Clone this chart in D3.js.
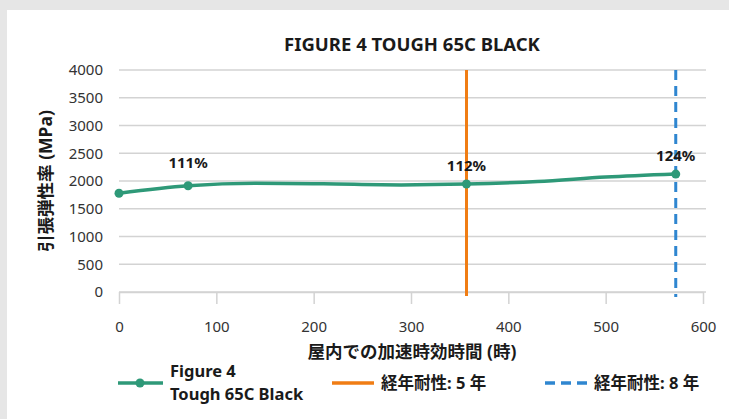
<!DOCTYPE html>
<html>
<head>
<meta charset="utf-8">
<script src="https://cdn.jsdelivr.net/npm/d3@7"></script>
<style>
  body { margin: 0; background: #e6e6e6; }
  svg { display: block; font-family: "Noto Sans", "Noto Sans CJK JP", sans-serif; }
</style>
</head>
<body>
<div id="chart"></div>
<script>
// data
var hours   = [0, 71, 140, 210, 290, 357, 430, 500, 572];
var modulus = [1780, 1915, 1960, 1950, 1930, 1945, 1990, 2070, 2125];
var markerIdx = [0, 1, 5, 8];
var pctLabels = [null, "111%", null, null, null, "112%", null, null, "124%"];
var life5 = 357, life8 = 572;
var yTicks = [0, 500, 1000, 1500, 2000, 2500, 3000, 3500, 4000];
var xTicks = [0, 100, 200, 300, 400, 500, 600];
var seriesName = ["Figure 4", "Tough 65C Black"];
var life5Name = "経年耐性: 5 年", life8Name = "経年耐性: 8 年";

var width = 729, height = 419,
    green = "#2e9978", orange = "#f07d14", blue = "#2f86d0";

var svg = d3.select("#chart").append("svg")
    .attr("width", width).attr("height", height);

svg.append("rect").attr("x", 7).attr("y", 10)
    .attr("width", width - 7).attr("height", height - 10).attr("fill", "#fff");

var x = d3.scaleLinear().domain([0, 600]).range([119, 703]),
    y = d3.scaleLinear().domain([0, 4000]).range([292, 70]);

// title
svg.append("text").attr("x", 412).attr("y", 51).attr("text-anchor", "middle")
    .attr("font-size", 18.5).attr("font-weight", "bold").attr("fill", "#1a1a1a")
    .text("FIGURE 4 TOUGH 65C BLACK");

// gridlines
svg.append("g").selectAll("line").data(yTicks).enter().append("line")
    .attr("x1", x(0)).attr("x2", 706)
    .attr("y1", function(d) { return y(d); }).attr("y2", function(d) { return y(d); })
    .attr("stroke", "#d3d3d3").attr("stroke-width", 1.5);

// y axis labels
var yAxis = d3.axisLeft(y).tickValues(yTicks).tickFormat(d3.format("d")).tickSize(0).tickPadding(0);
svg.append("g").attr("transform", "translate(103,0)").call(yAxis)
    .call(function(g) { g.select(".domain").remove(); })
    .selectAll("text").attr("font-size", 15).attr("fill", "#333")
    .attr("font-family", "'Noto Sans', sans-serif");

// x axis
var xAxis = d3.axisBottom(x).tickValues(xTicks).tickSize(12).tickPadding(17).tickSizeOuter(0);
var gx = svg.append("g").attr("transform", "translate(0," + y(0) + ")").call(xAxis);
gx.select(".domain").attr("stroke", "#d3d3d3").attr("stroke-width", 1.5);
gx.selectAll(".tick line").attr("stroke", "#d3d3d3").attr("stroke-width", 1.5);
gx.selectAll("text").attr("font-size", 15).attr("fill", "#333")
    .attr("font-family", "'Noto Sans', sans-serif");

// axis titles
svg.append("text").attr("x", 412).attr("y", 358).attr("text-anchor", "middle")
    .attr("font-size", 17.5).attr("font-weight", "bold").attr("fill", "#1a1a1a")
    .text("屋内での加速時効時間 (時)");
svg.append("text").attr("transform", "translate(52,181) rotate(-90)")
    .attr("text-anchor", "middle")
    .attr("font-size", 17.5).attr("font-weight", "bold").attr("fill", "#1a1a1a")
    .text("引張弾性率 (MPa)");

// durability lines
svg.append("line").attr("x1", x(life5)).attr("x2", x(life5))
    .attr("y1", y(4000)).attr("y2", y(0) + 4)
    .attr("stroke", orange).attr("stroke-width", 3);
svg.append("line").attr("x1", x(life8)).attr("x2", x(life8))
    .attr("y1", y(4000)).attr("y2", y(0) + 5)
    .attr("stroke", blue).attr("stroke-width", 3).attr("stroke-dasharray", "10,6");

// series
var pts = hours.map(function(h, i) { return {h: h, v: modulus[i], label: pctLabels[i]}; });
var line = d3.line().x(function(d) { return x(d.h); }).y(function(d) { return y(d.v); })
    .curve(d3.curveMonotoneX);
svg.append("path").datum(pts).attr("d", line)
    .attr("fill", "none").attr("stroke", green).attr("stroke-width", 3.5);

var marks = markerIdx.map(function(i) { return pts[i]; });
svg.append("g").selectAll("circle").data(marks).enter().append("circle")
    .attr("cx", function(d) { return x(d.h); }).attr("cy", function(d) { return y(d.v); })
    .attr("r", 4.5).attr("fill", green);

svg.append("g").selectAll("text").data(marks.filter(function(d) { return d.label; })).enter()
  .append("text")
    .attr("x", function(d) { return x(d.h); })
    .attr("y", function(d) { return y(d.v) - (d.label == "111%" ? 18 : 13); })
    .attr("text-anchor", "middle").attr("font-size", 15).attr("font-weight", "bold")
    .attr("fill", "#1a1a1a")
    .text(function(d) { return d.label; });

// legend
var lg = svg.append("g").attr("font-size", 16.5).attr("font-weight", "bold").attr("fill", "#1a1a1a");
lg.append("line").attr("x1", 118).attr("x2", 163).attr("y1", 383).attr("y2", 383)
    .attr("stroke", green).attr("stroke-width", 3.5);
lg.append("circle").attr("cx", 140).attr("cy", 383).attr("r", 4.5).attr("fill", green);
lg.append("text").attr("x", 170).attr("y", 377).text(seriesName[0]);
lg.append("text").attr("x", 170).attr("y", 400).text(seriesName[1]);

lg.append("line").attr("x1", 332).attr("x2", 374).attr("y1", 383).attr("y2", 383)
    .attr("stroke", orange).attr("stroke-width", 3.5);
lg.append("text").attr("x", 381).attr("y", 389).text(life5Name);

lg.append("line").attr("x1", 545).attr("x2", 590).attr("y1", 383).attr("y2", 383)
    .attr("stroke", blue).attr("stroke-width", 3.5).attr("stroke-dasharray", "10,6");
lg.append("text").attr("x", 594).attr("y", 389).text(life8Name);
</script>
</body>
</html>
